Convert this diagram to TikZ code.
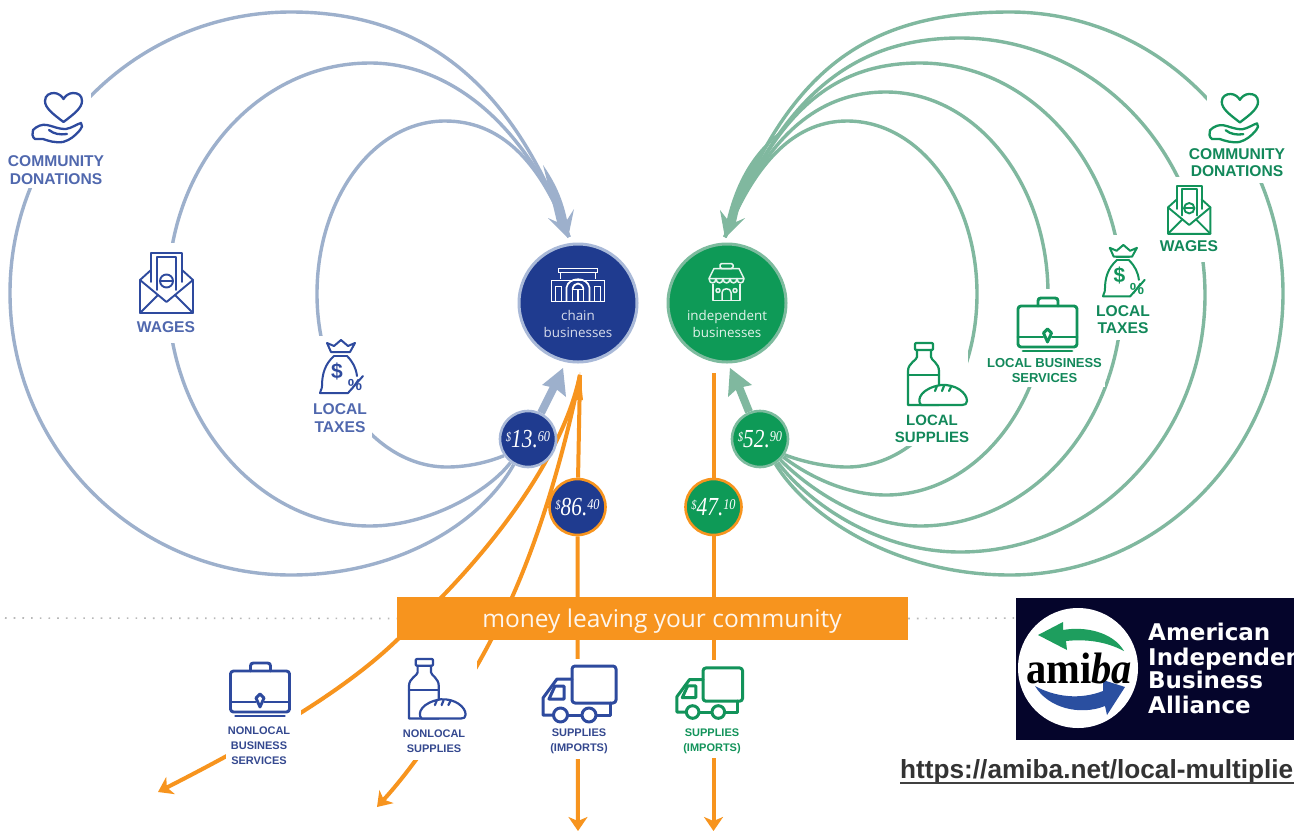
\documentclass[tikz,border=0pt]{standalone}
\usepackage{fontspec}
\usepackage{graphicx}
\setmainfont{Liberation Sans}
\newfontfamily\numfont{Liberation Serif}
\newfontfamily\softfont{Open Sans}
\newfontfamily\logofont{DejaVu Sans}
\usetikzlibrary{arrows.meta,calc}
\pgfdeclarelayer{bg}
\pgfdeclarelayer{maskl}
\pgfsetlayers{bg,maskl,main}
\definecolor{arcblue}{HTML}{9DB0CC}
\definecolor{arcgreen}{HTML}{80B89F}
\definecolor{chainblue}{HTML}{1F3B8F}
\definecolor{indepgreen}{HTML}{0E9A57}
\definecolor{ringblue}{HTML}{A9B9D8}
\definecolor{ringgreen}{HTML}{7DBB9E}
\definecolor{money}{HTML}{F7941E}
\definecolor{lblblue}{HTML}{5068AE}
\definecolor{icoblue}{HTML}{2E4A9E}
\definecolor{lblgreen}{HTML}{12885A}
\definecolor{icogreen}{HTML}{12935A}
\definecolor{smallblue}{HTML}{34488F}
\definecolor{navy}{HTML}{05052B}
\definecolor{logogreen}{HTML}{1E9E5E}
\definecolor{logoblue}{HTML}{2A4FA0}
\newcommand\fs[2]{\fontsize{#1}{#2}\selectfont}
\newcommand\amt[2]{{\numfont\itshape\scalebox{.82}[1]{\raisebox{6pt}{\fs{13}{13}\$}\fs{26}{26}#1\raisebox{6pt}{\fs{15}{15}#2}}}}
\tikzset{
  arcb/.style={draw=arcblue,line width=3.4pt},
  arcg/.style={draw=arcgreen,line width=3.4pt},
  orangeline/.style={draw=money,line width=4pt},
  orangearrow/.style={orangeline,-{Stealth[length=14pt,width=19pt,inset=4pt]}},
  maskbox/.style={fill=white,draw=none},
  bigcirc/.style={circle,minimum size=118pt,inner sep=0pt,line width=3pt},
  badge/.style={circle,minimum size=56pt,inner sep=0pt,line width=2.6pt,text=white},
  lbl/.style={font=\bfseries\fs{15.6}{17.6},align=center,inner sep=0pt},
  lblsmall/.style={font=\bfseries\fs{11}{15},align=center,inner sep=0pt,text=smallblue},
  circlelbl/.style={font=\softfont\fs{13.4}{17},align=center,inner sep=0pt},
  logotxt/.style={font=\logofont\bfseries\fs{23}{23},text=white,anchor=base west,inner sep=0pt},
}
\newcommand\icoheart[4]{\begin{scope}[shift={(#1,#2)},scale=#3,color=#4,line width=2.3pt,line join=round,line cap=round]
 \draw (30.5,30) .. controls (20,22) and (12,16) .. (12,9) .. controls (12,3) and (17,1) .. (21,1) .. controls (25,1) and (29,4) .. (30.5,7) .. controls (32,4) and (36,1) .. (40,1) .. controls (45,1) and (49,3) .. (49,9) .. controls (49,16) and (41,22) .. (30.5,30) -- cycle;
 \draw (0,38) .. controls (4,34) and (9,32) .. (14,33) .. controls (20,34) and (24,37) .. (33,37) .. controls (39,36) and (44,32) .. (48,31) .. controls (50,33) and (49,36) .. (47,38) .. controls (42,44) and (37,48) .. (30,50) .. controls (22,51) and (16,49) .. (10,47) -- (2,47) .. controls (-1,45) and (-1,41) .. (0,38) -- cycle;
 \draw (16,38) .. controls (21,42) and (27,43) .. (34,42);
\end{scope}}
\newcommand\icoenv[4]{\begin{scope}[shift={(#1,#2)},scale=#3,color=#4,line width=1.9pt,line join=round,line cap=round]
 \draw (11,30) -- (11,1) -- (42,1) -- (42,30);
 \draw (17,38) -- (17,5) -- (36,5) -- (36,38);
 \draw (26.5,29) circle (6.5);
 \draw (21,29) -- (32,29);
 \draw (11,18) -- (0,28) -- (0,61) -- (53,61) -- (53,28) -- (42,18);
 \draw (0,28) -- (26.5,50) -- (53,28);
 \draw (0,61) -- (18,43);
 \draw (53,61) -- (35,43);
\end{scope}}
\newcommand\icobag[4]{\begin{scope}[shift={(#1,#2)},scale=#3,color=#4,line width=2pt,line join=round,line cap=round]
 \draw (11,14) -- (7,5) -- (14,8) -- (21,2) -- (28,8) -- (35,5) -- (30,14) -- cycle;
 \draw (14,14) -- (27,14) (14,18) -- (27,18);
 \draw (14,18) .. controls (5,26) and (2,36) .. (2,48) .. controls (2,52) and (0,52) .. (0,55) -- (28,55);
 \draw (27,18) .. controls (33,24) and (36,30) .. (37,38);
 \draw (28,55) -- (43,38);
 \node[font=\bfseries\fs{21}{21},inner sep=0pt,text=#4] (bagd#1) at (17,33) {\$};
 \node[font=\bfseries\fs{16}{16},inner sep=0pt,text=#4] (bagp#1) at (35,47) {\%};
\end{scope}}
\newcommand\icocase[4]{\begin{scope}[shift={(#1,#2)},scale=#3,color=#4,line width=2.9pt,line join=round,line cap=round]
 \draw (20,8) -- (20,3) .. controls (20,1) and (21,0) .. (23,0) -- (37,0) .. controls (39,0) and (40,1) .. (40,3) -- (40,8);
 \draw[rounded corners=3pt] (0,8) rectangle (59,49);
 \draw (0,39) -- (25,39) (34,39) -- (59,39);
 \draw (29.5,31) -- (33.5,35) -- (29.5,44) -- (25.5,35) -- cycle;
 \draw (5,53) -- (54,53);
\end{scope}}
\newcommand\icomilk[4]{\begin{scope}[shift={(#1,#2)},scale=#3,color=#4,line width=2.2pt,line join=round,line cap=round]
 \draw[rounded corners=1pt] (7,0) rectangle (25,7);
 \draw (9,7) -- (9,14) .. controls (9,17) and (0,20) .. (0,28) -- (0,62) -- (31,62) -- (31,28) .. controls (31,20) and (23,17) .. (23,14) -- (23,7);
 \draw (0,32) -- (31,32);
 \draw[fill=white] (13,62) .. controls (8,56) and (14,45) .. (33,42) .. controls (48,41) and (59,50) .. (59,58) .. controls (59,61) and (57,62) .. (54,62) -- cycle;
 \draw (27,48) -- (29,43) (34,48) -- (36,43) (41,48) -- (43,44);
\end{scope}}
\newcommand\icotruck[4]{\begin{scope}[shift={(#1,#2)},scale=#3,color=#4,line width=3pt,line join=round,line cap=round]
 \draw[rounded corners=3pt] (30,1) rectangle (74,38);
 \draw (30,14) -- (15,14) -- (1,33) -- (1,50) -- (11,50);
 \draw (13,21) -- (22,21) -- (22,34) -- (7,34) -- cycle;
 \draw (26,50) -- (39,50) (55,50) -- (68,50) -- (68,38);
 \draw (18.5,50) circle (7);
 \draw (47,50) circle (7);
\end{scope}}
\newcommand\icochain[2]{\begin{scope}[shift={(#1,#2)},color=white,line width=1.7pt,line join=miter]
 \draw (7,0) rectangle (46,4) (9,4) -- (9,10) (44,4) -- (44,10);
 \draw (0,12) rectangle (53,33);
 \draw (4,18) rectangle (10,33) (43,18) rectangle (49,33);
 \draw (15,33) -- (15,19) .. controls (17,8) and (36,8) .. (38,19) -- (38,33);
 \draw (21,33) -- (21,21) -- (32,21) -- (32,33) (26.5,21) -- (26.5,33);
 \draw (21,21) .. controls (22,13) and (31,13) .. (32,21);
\end{scope}}
\newcommand\icoshop[2]{\begin{scope}[shift={(#1,#2)},color=white!90!indepgreen,line width=1.5pt,line join=round]
 \draw[rounded corners=1.5pt] (11,0) rectangle (24,5);
 \draw (5,5) -- (30,5) -- (35,15) -- (0,15) -- cycle;
 \draw (0,15) .. controls (0,21) and (7,21) .. (7,15) .. controls (7,21) and (14,21) .. (14,15) .. controls (14,21) and (21,21) .. (21,15) .. controls (21,21) and (28,21) .. (28,15) .. controls (28,21) and (35,21) .. (35,15);
 \draw (4,20) -- (4,37) -- (31,37) -- (31,20);
 \draw (13,37) -- (13,29) .. controls (13,24) and (22,24) .. (22,29) -- (22,37);
 \draw (9,27) circle (2) (26,27) circle (2);
\end{scope}}
\begin{document}
\begin{tikzpicture}[x=1pt,y=-1pt]
\useasboundingbox (0,0) rectangle (1294,831);
% --- main nodes
\node[bigcirc,draw=ringblue,fill=chainblue] (chain) at (578,303) {};
\node[bigcirc,draw=ringgreen,fill=indepgreen] (indep) at (727,303) {};
\node[circlelbl,text=white!82!chainblue] (chainlbl) at (578,323.5) {chain\\businesses};
\node[circlelbl,text=white!88!indepgreen] (indeplbl) at (727,323.5) {independent\\businesses};
\icochain{551.5}{268.5}
\icoshop{709}{263.5}
\node[badge,draw=ringblue,fill=chainblue] (lb) at (528,439) {\amt{13.}{60}};
\node[badge,draw=ringgreen,fill=indepgreen] (rb) at (760,439) {\amt{52.}{90}};
\node[badge,draw=money,fill=chainblue] (ob) at (577.5,507) {\amt{86.}{40}};
\node[badge,draw=money,fill=indepgreen] (gb) at (713.5,507) {\amt{47.}{10}};
\node[fill=money,minimum width=511pt,minimum height=43pt,inner sep=0pt] (bar) at (652.5,618.5) {};
\node[inner sep=0pt,text=white!92!money,font=\softfont\fs{24.5}{24.5}] (barlbl) at (662,621.5) {money leaving your community};
\coordinate (ctop) at (569,237);
\coordinate (gtop) at (725,237);
\coordinate (cup) at (554,387);
\coordinate (gup) at (739,387);
\coordinate (otip) at (580,375);
\coordinate (gout) at (713.5,373);
\coordinate (atip) at (158,792);
\coordinate (btip) at (377,807);
\coordinate (ctip) at (578,831);
\coordinate (dtip) at (713.5,831);
\coordinate (dotl) at (5,618);
\coordinate (dotr) at (1016,618);
% --- connectors
\begin{pgfonlayer}{bg}
\fill[white] (0,0) rectangle (1294,831);
\draw[line width=1.6pt,dash pattern=on 1.6pt off 7.1pt,draw=black!28] (dotl) -- (bar.west);
\draw[line width=1.6pt,dash pattern=on 1.6pt off 7.1pt,draw=black!28] (bar.east) -- (dotr);
% chain arcs
\draw[arcb] (lb) .. controls (480,525) and (395,575) .. (291,575) .. controls (136,575) and (10,449) .. (10,293) .. controls (10,138) and (136,12) .. (291,12) .. controls (441,12) and (520,105) .. (ctop);
\draw[arcb] (lb) .. controls (490,490) and (430,526) .. (370,526) .. controls (258,526) and (168,420) .. (168,293) .. controls (168,165) and (258,63) .. (370,63) .. controls (450,63) and (527,125) .. (ctop);
\draw[arcb] (lb) .. controls (505,455) and (480,467) .. (447,467) .. controls (376,467) and (317,389) .. (317,294) .. controls (317,198) and (374,121) .. (445,121) .. controls (500,121) and (540,160) .. (ctop);
\draw[draw=arcblue,line width=8pt] (lb) -- (cup);
% independent arcs
\draw[arcg] (rb) .. controls (810,520) and (900,575) .. (1010,575) .. controls (1161,575) and (1283,449) .. (1283,293.5) .. controls (1283,138) and (1161,12) .. (1010,12) .. controls (860,12) and (785,75) .. (gtop);
\draw[arcg] (rb) .. controls (810,505) and (880,552) .. (960,552) .. controls (1095,552) and (1205,437) .. (1205,295) .. controls (1205,153) and (1095,38) .. (960,38) .. controls (850,38) and (780,100) .. (gtop);
\draw[arcg] (rb) .. controls (805,485) and (860,526) .. (920,526) .. controls (1032,526) and (1122,422) .. (1122,295) .. controls (1122,167) and (1032,63) .. (920,63) .. controls (830,63) and (774,115) .. (gtop);
\draw[arcg] (rb) .. controls (800,470) and (840,495) .. (886,495) .. controls (975.5,495) and (1048,405) .. (1048,294) .. controls (1048,183) and (975.5,92) .. (886,92) .. controls (815,92) and (764,140) .. (gtop);
\draw[arcg] (rb) .. controls (785,455) and (815,467) .. (847,467) .. controls (919,467) and (977,390) .. (977,294) .. controls (977,198) and (919,121) .. (847,121) .. controls (790,121) and (752,170) .. (gtop);
\draw[draw=arcgreen,line width=8pt] (rb) -- (gup);
% heads
\fill[arcblue] (543,165) .. controls (552,178) and (562,195) .. (567,220) -- (574,209) -- (568,238) -- (548,218) -- (557,222) .. controls (553,205) and (548,185) .. cycle;
\fill[arcgreen] (785,128) .. controls (762,148) and (745,180) .. (736,222) -- (745,218) -- (725,238) -- (720,210) -- (727,219) .. controls (735,185) and (752,150) .. cycle;
\fill[arcblue] (563,368) -- (542,385) -- (555,388) -- (566,397) -- cycle;
\fill[arcgreen] (730,368) -- (752,385) -- (738,388) -- (728,397) -- cycle;
% orange
\draw[orangearrow] (otip) .. controls (560,470) and (470,575) .. (bar.south west) .. controls (340,695) and (250,745) .. (atip);
\draw[orangearrow] (otip) .. controls (565,450) and (535,560) .. (491,640) .. controls (465,690) and (420,760) .. (btip);
\draw[orangeline] (otip) -- (ob);
\fill[money] (580,372) -- (576,400) -- (583,400) -- cycle;
\draw[orangearrow] (ob) -- (ctip);
\draw[orangeline] (gout) -- (gb);
\draw[orangearrow] (gb) -- (dtip);
\end{pgfonlayer}
% --- masks behind the icons
\begin{pgfonlayer}{maskl}
\fill[maskbox] (0,90) rectangle (91,188);
\fill[maskbox] (135,243) rectangle (200,343);
\fill[maskbox] (305,336) rectangle (372,437);
\fill[maskbox] (1207,88) rectangle (1275,183);
\fill[maskbox] (1158,177) rectangle (1222,262);
\fill[maskbox] (1095,235) rectangle (1155,340);
\fill[maskbox] (985,289) rectangle (1105,387);
\fill[maskbox] (900,345) rectangle (968,446);
\fill[maskbox] (226,655) rectangle (301,770);
\fill[maskbox] (400,653) rectangle (477,760);
\fill[maskbox] (540,659) rectangle (620,759);
\fill[maskbox] (674,660) rectangle (748,758);
\end{pgfonlayer}
% --- blue labels
\icoheart{33}{92}{1}{icoblue}
\node[lbl,text=lblblue] (cd) at (56,170) {COMMUNITY\\DONATIONS};
\icoenv{140}{252}{1}{icoblue}
\node[lbl,text=lblblue] (wg) at (166,327) {WAGES};
\icobag{320}{338}{1}{icoblue}
\node[lbl,text=lblblue] (lt) at (340,418) {LOCAL\\TAXES};
% --- green labels
\icoheart{1210}{93}{.98}{icogreen}
\node[lbl,text=lblgreen] (gcd) at (1237,162.5) {COMMUNITY\\DONATIONS};
\icoenv{1168}{185}{.8}{icogreen}
\node[lbl,text=lblgreen] (gwg) at (1189,246) {WAGES};
\icobag{1103}{243}{.97}{icogreen}
\node[lbl,text=lblgreen] (glt) at (1123,319.5) {LOCAL\\TAXES};
\icocase{1018}{298}{1}{icogreen}
\node[lbl,text=lblgreen,font=\bfseries\fs{13}{15}] (gbs) at (1044.5,370.5) {LOCAL BUSINESS\\SERVICES};
\icomilk{908}{343}{1}{icogreen}
\node[lbl,text=lblgreen,font=\bfseries\fs{15}{17}] (gsu) at (932,428.5) {LOCAL\\SUPPLIES};
% --- lower labels
\icocase{230.5}{663}{1}{icoblue}
\node[lblsmall] (nbs) at (259,746) {NONLOCAL\\BUSINESS\\SERVICES};
\icomilk{409}{659}{.96}{icoblue}
\node[lblsmall] (nsu) at (434,741.5) {NONLOCAL\\SUPPLIES};
\icotruck{542}{665}{1}{icoblue}
\node[lblsmall] (tsu) at (579,741.5) {SUPPLIES\\(IMPORTS)};
\icotruck{676}{667}{.9}{icogreen}
\node[lblsmall,text=icogreen] (gsu2) at (712,741.5) {SUPPLIES\\(IMPORTS)};
% --- logo
\node[fill=navy,minimum width=278pt,minimum height=142pt,inner sep=0pt] (logo) at (1155,669) {};
\node[circle,fill=white,minimum size=120pt,inner sep=0pt] (seal) at (1078,668) {};
\fill[logogreen] (1038,635) -- (1063,622) -- (1063,630) .. controls (1085,626) and (1113,632) .. (1124,651) .. controls (1105,641) and (1085,639) .. (1066,641) -- (1067,650) -- cycle;
\fill[logoblue] (1125,687) -- (1107,715) -- (1105,706) .. controls (1080,716) and (1048,708) .. (1035,686) .. controls (1055,697) and (1080,700) .. (1103,691) -- (1103,680) -- cycle;
\node[font=\bfseries\fs{44}{44},inner sep=0pt,text=black] (amiba) at (1079,668) {\numfont\scalebox{.92}[1]{ami\textit{ba}}};
\begin{scope}
\clip (0,0) rectangle (1294,831);
\node[logotxt] (l1) at (1148,640) {American};
\node[logotxt] (l2) at (1148,665) {Independent};
\node[logotxt] (l3) at (1148,688.5) {Business};
\node[logotxt] (l4) at (1148,713) {Alliance};
\node[font=\bfseries\fs{26.2}{26.2},text=black!80,anchor=base west,inner sep=0pt] (url) at (900,778) {https://amiba.net/local-multiplie};
\end{scope}
\coordinate (ulr) at (1294,783);
\draw[black!75,line width=2.4pt] (900,783) -- (ulr);
\end{tikzpicture}
\end{document}
